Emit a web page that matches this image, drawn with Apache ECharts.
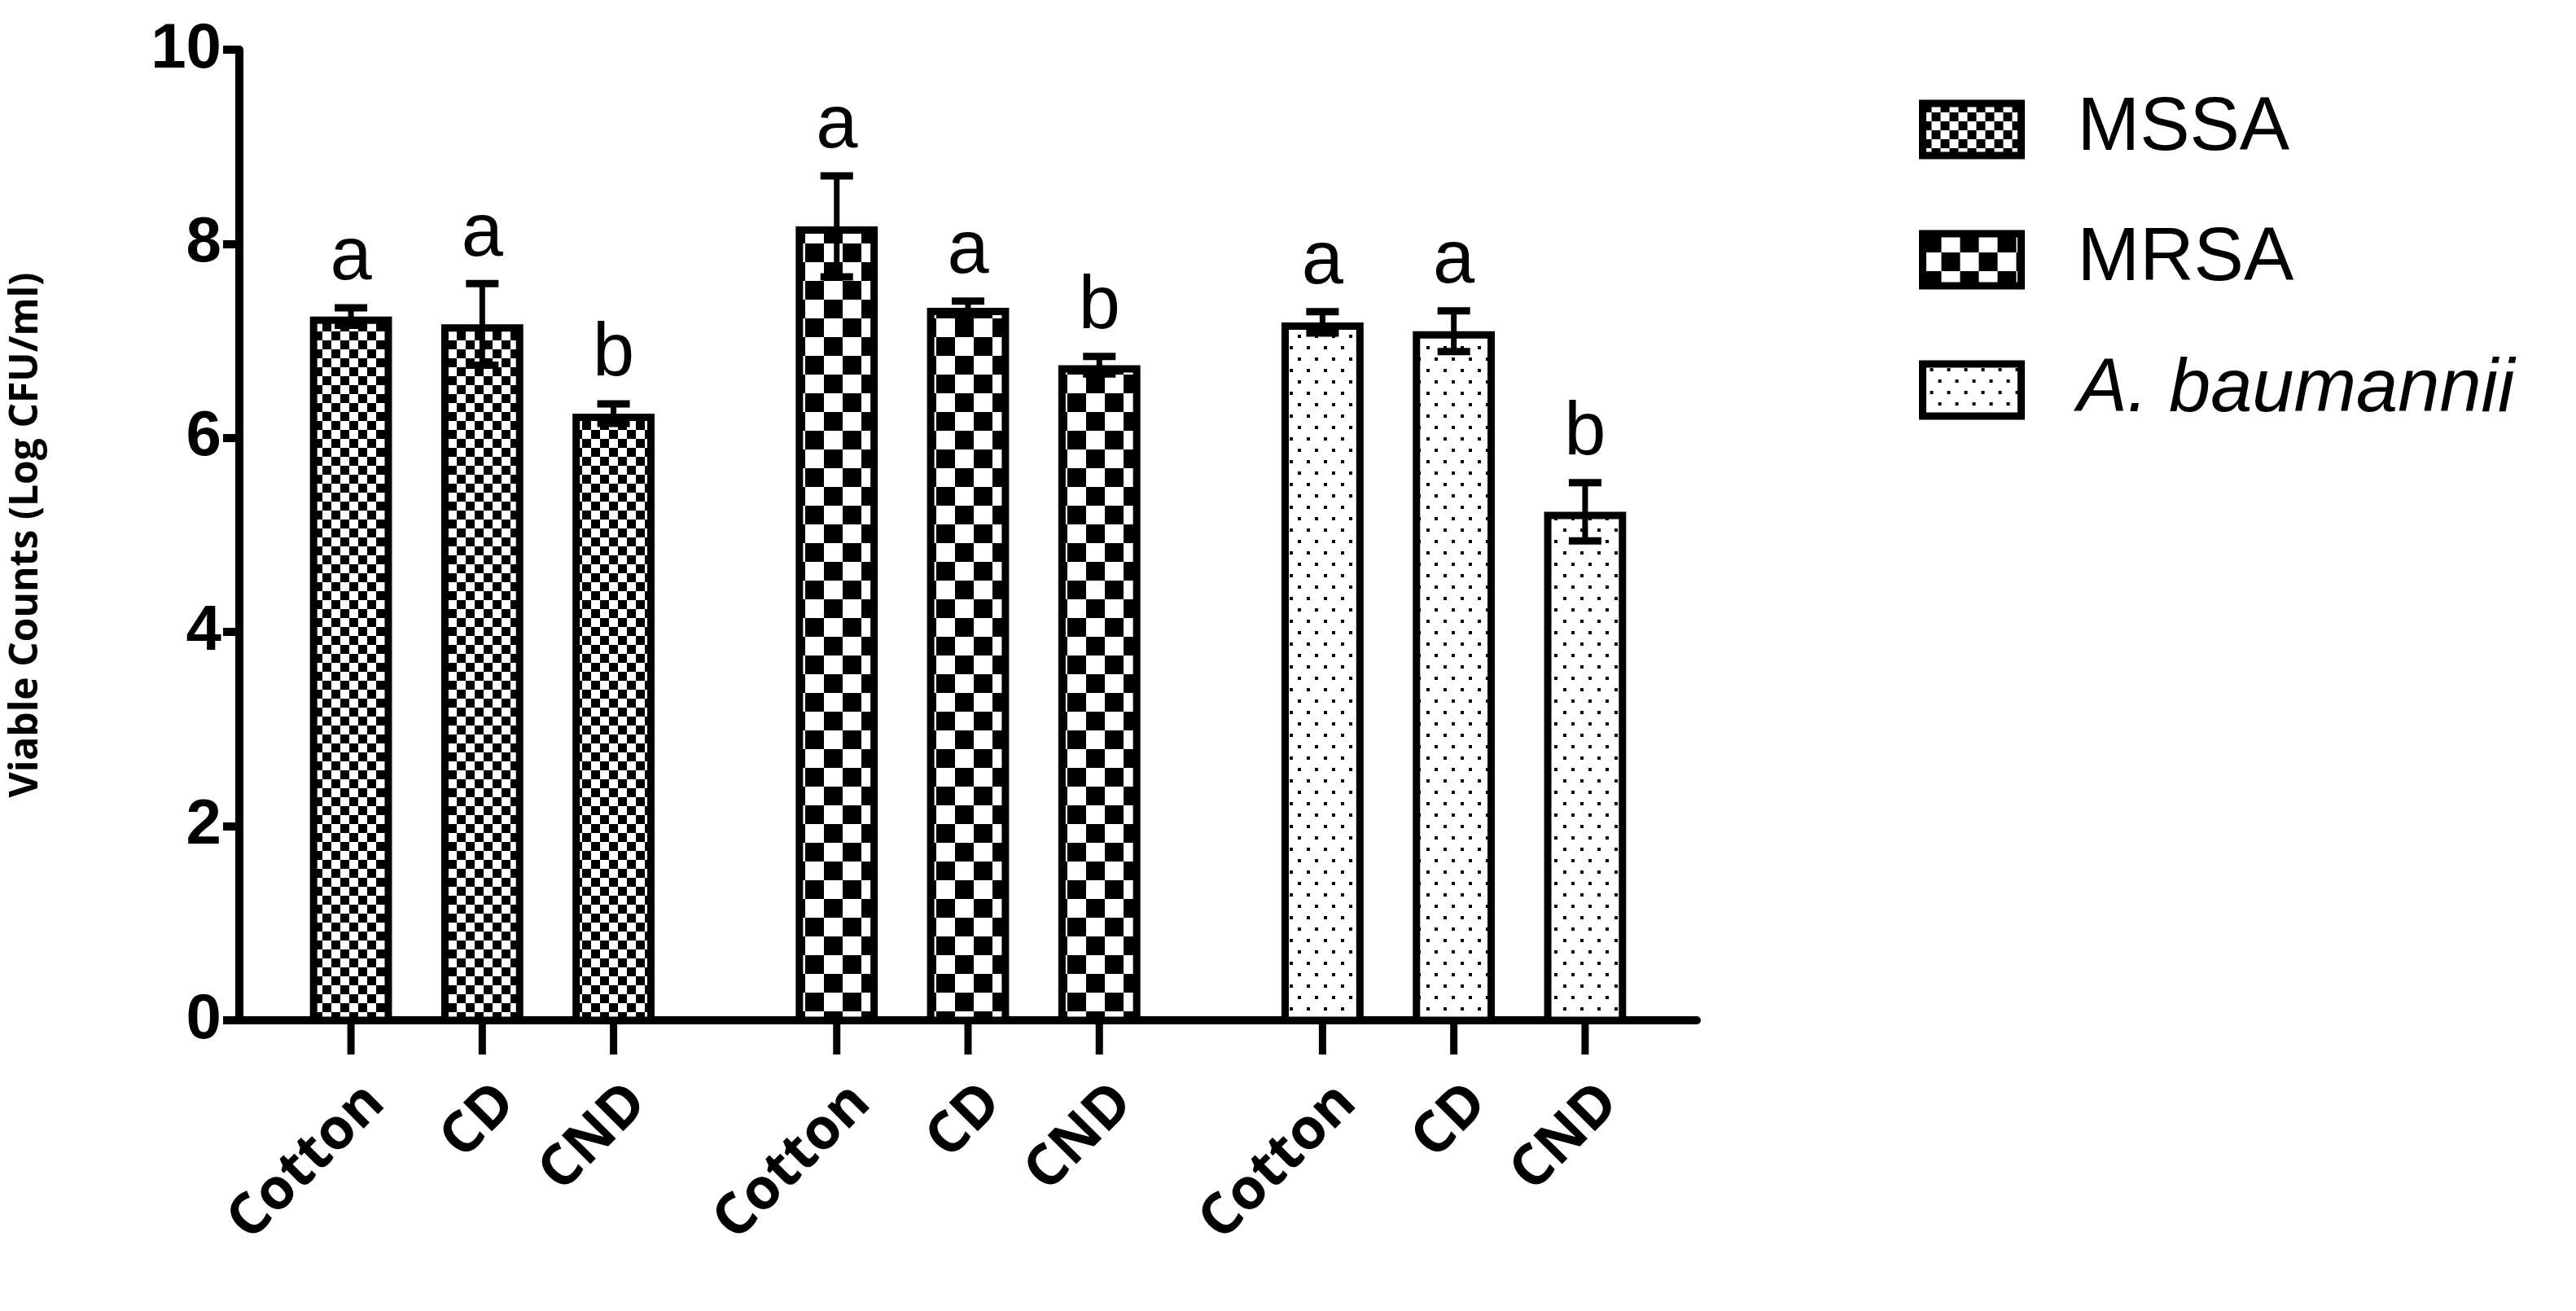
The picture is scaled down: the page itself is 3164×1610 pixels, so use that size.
<!DOCTYPE html>
<html><head><meta charset="utf-8">
<script src="https://cdn.jsdelivr.net/npm/echarts@6/dist/echarts.min.js"></script>
<style>html,body{margin:0;background:#fff}#c{width:3164px;height:1610px}</style>
</head><body><div id="c"></div>
<script>
const groups = ['MSSA', 'MRSA', 'A. baumannii'];
const materials = ['Cotton', 'CD', 'CND'];
const means = [[7.25, 7.17, 6.25], [8.18, 7.34, 6.75], [7.19, 7.10, 5.24]];
const errors = [[0.09, 0.42, 0.10], [0.52, 0.07, 0.09], [0.11, 0.21, 0.30]];
const letters = [['a', 'a', 'b'], ['a', 'a', 'b'], ['a', 'a', 'b']];
const yTicks = [0, 2, 4, 6, 8, 10];

function makePat(kind) {
  const c = document.createElement('canvas');
  const x = c.getContext('2d');
  if (kind === 0 || kind === 1) {
    const s = kind === 0 ? 11 : 23;
    c.width = c.height = 2 * s;
    x.fillStyle = '#fff'; x.fillRect(0, 0, 2 * s, 2 * s);
    x.fillStyle = '#000'; x.fillRect(0, 0, s, s); x.fillRect(s, s, s, s);
  } else {
    c.width = 42; c.height = 28;
    x.fillStyle = '#fff'; x.fillRect(0, 0, 42, 28);
    x.fillStyle = '#000';
    x.fillRect(9, 5, 4, 4); x.fillRect(30, 5, 4, 4);
    x.fillRect(19, 19, 4, 4); x.fillRect(40, 19, 2, 4); x.fillRect(0, 19, 2, 4);
  }
  return { image: c, repeat: 'repeat' };
}
const pats = [makePat(0), makePat(1), makePat(2)];

const data = [];
groups.forEach((g, gi) => materials.forEach((m, mi) => {
  data.push([gi, mi, means[gi][mi], errors[gi][mi]]);
}));

const chart = echarts.init(document.getElementById('c'));
const font = 'Liberation Sans';
chart.setOption({
  animation: false,
  grid: { left: 293, right: 3164 - 2084, top: 61, bottom: 1610 - 1253 },
  xAxis: { type: 'value', min: 0, max: 3, axisLine: { lineStyle: { color: '#000', width: 10 } },
    axisTick: { show: false }, axisLabel: { show: false }, splitLine: { show: false } },
  yAxis: { type: 'value', min: 0, max: 10, interval: 2,
    name: 'Viable Counts (Log CFU/ml)', nameLocation: 'middle', nameGap: 238,
    nameTextStyle: { fontFamily: 'Open Sans', fontWeight: 'bold', fontSize: 48, color: '#000' },
    axisLine: { show: true, lineStyle: { color: '#000', width: 10 } },
    axisTick: { show: true, length: 20, lineStyle: { color: '#000', width: 10 } },
    axisLabel: { fontFamily: font, fontWeight: 'bold', fontSize: 78, color: '#000', margin: 22 },
    splitLine: { show: false } },
  series: [{
    type: 'custom', data: data,
    renderItem: function (params, api) {
      const gi = api.value(0), mi = api.value(1), v = api.value(2), e = api.value(3);
      const unit = api.size([1, 0])[0];
      const cx = api.coord([gi + 0.5 + (mi - 1) * 80 / 296, 0])[0];
      const hw = unit * 25 / 296;
      const y0 = api.coord([0, 0])[1];
      const yt = api.coord([0, v])[1];
      const ye = api.coord([0, v + e])[1];
      const yl = api.coord([0, v - e])[1];
      const lw = 9;
      const capw = 20;
      return { type: 'group', children: [
        { type: 'rect', shape: { x: cx - hw + lw / 2, y: yt + lw / 2, width: 2 * hw - lw, height: y0 - yt - lw / 2 },
          style: { fill: pats[gi], stroke: '#000', lineWidth: lw } },
        { type: 'line', shape: { x1: cx, y1: ye, x2: cx, y2: yl }, style: { stroke: '#000', lineWidth: 7 } },
        { type: 'line', shape: { x1: cx - capw, y1: ye, x2: cx + capw, y2: ye }, style: { stroke: '#000', lineWidth: 9 } },
        { type: 'line', shape: { x1: cx - capw, y1: yl, x2: cx + capw, y2: yl }, style: { stroke: '#000', lineWidth: 9 } },
        { type: 'line', shape: { x1: cx, y1: y0, x2: cx, y2: y0 + 42 }, style: { stroke: '#000', lineWidth: 9 } },
        { type: 'text', x: cx, y: ye - 14, style: { text: letters[gi][mi], fontFamily: font, fontSize: 92,
          fill: '#000', align: 'center', verticalAlign: 'bottom' } },
        { type: 'text', x: cx + 30, y: y0 + 90, rotation: Math.PI / 4,
          style: { text: materials[mi], fontFamily: 'Open Sans', fontWeight: 'bold', fontSize: 70,
            fill: '#000', align: 'right', verticalAlign: 'middle' } }
      ] };
    }
  }],
  graphic: groups.map((g, i) => ({
    type: 'group', left: 2357, top: 113 + i * 160, children: [
      { type: 'rect', shape: { x: 0, y: 0, width: 121, height: 64 },
        style: { fill: pats[i], stroke: '#000', lineWidth: 9 } },
      { type: 'text', x: 190, y: 32, style: { text: g, fontFamily: font, fontSize: 92,
        fontStyle: i === 2 ? 'italic' : 'normal', fill: '#000', verticalAlign: 'middle' } }
    ]
  }))
});
</script></body></html>
